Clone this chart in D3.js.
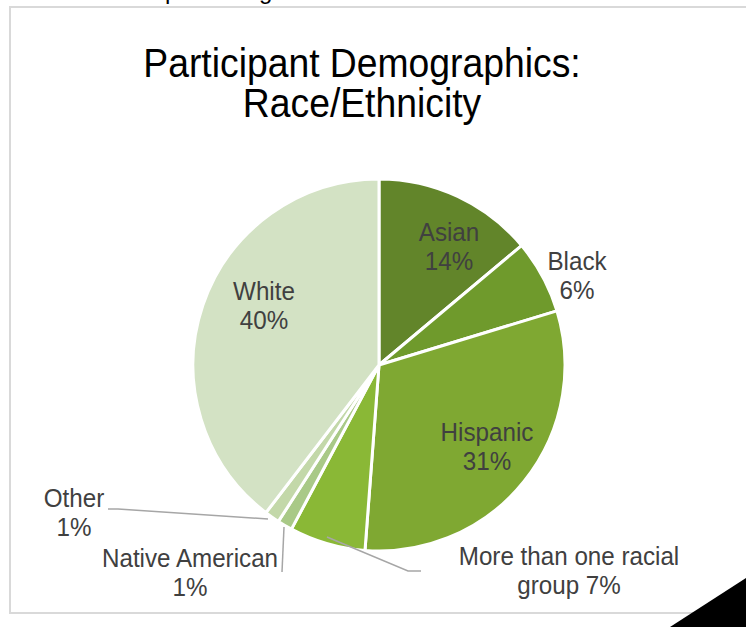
<!DOCTYPE html>
<html lang="en">
<head>
<meta charset="UTF-8">
<title>Participant Demographics: Race/Ethnicity</title>
<script src="https://d3js.org/d3.v7.min.js"></script>
<style>
    body, html {
        margin: 0;
        padding: 0;
        overflow: hidden;
        background: #fff;
    }
    svg {
        display: block;
        font-family: 'Liberation Sans', Arial, sans-serif;
    }
</style>
</head>
<body>
<svg id="chart" width="746" height="627"></svg>
<script>
// Race/Ethnicity breakdown (percent)
const groups = ["Asian", "Black", "Hispanic", "More than one racial group", "Native American", "Other", "White"];
const shares = [13.9, 6.4, 30.9, 6.6, 1.3, 1.3, 39.6];
const colors = ["#62852a", "#6f9a2c", "#7fa832", "#8ab836", "#a9c987", "#c3d8a9", "#d3e2c4"];

// label lines: [first line, second line]
const labelLines = [
    ["Asian", "14%"],
    ["Black", "6%"],
    ["Hispanic", "31%"],
    ["More than one racial", "group 7%"],
    ["Native American", "1%"],
    ["Other", "1%"],
    ["White", "40%"]
];

const svg = d3.select("#chart");
const cx = 379, cy = 365, radius = 186;

// frame around the chart area
svg.append("rect")
    .attr("x", 10).attr("y", 7)
    .attr("width", 760).attr("height", 606)
    .attr("fill", "none")
    .attr("stroke", "#d9d9d9")
    .attr("stroke-width", 2);

// clipped text above the frame (only descenders visible)
svg.append("text").attr("x", 165).attr("y", -1).attr("font-size", 24).text("p");
svg.append("text").attr("x", 259).attr("y", -1).attr("font-size", 24).text("g");

// title
const title = svg.append("g").attr("text-anchor", "middle").attr("fill", "#000");
["Participant Demographics:", "Race/Ethnicity"].forEach((t, i) => {
    title.append("text")
        .attr("transform", `translate(362,${77 + i * 40}) scale(1,1.08)`)
        .attr("font-size", 37.3)
        .text(t);
});

const data = groups.map((g, i) => ({ name: g, value: shares[i], color: colors[i], lines: labelLines[i] }));

const pie = d3.pie().sort(null).value(d => d.value);
const arc = d3.arc().innerRadius(0).outerRadius(radius);
const arcs = pie(data);

const pieG = svg.append("g").attr("transform", `translate(${cx},${cy})`);
pieG.selectAll("path")
    .data(arcs)
    .join("path")
    .attr("d", arc)
    .attr("fill", d => d.data.color)
    .attr("stroke", "#fff")
    .attr("stroke-width", 3)
    .attr("stroke-linejoin", "round");

// label positions (absolute, center x and first baseline)
const labelPos = {
    "Asian": [449, 241],
    "Black": [577, 270],
    "Hispanic": [487, 441],
    "More than one racial group": [569, 565],
    "Native American": [190, 567],
    "Other": [74, 507],
    "White": [264, 300]
};

// leader lines for small slices
const leaders = {
    "Other": [[108, 509], [118, 509], [268, 519]],
    "Native American": [[284, 527], [282, 572]],
    "More than one racial group": [[327, 537], [408, 571], [421, 571]]
};

const line = d3.line();
svg.append("g")
    .selectAll("path")
    .data(Object.values(leaders))
    .join("path")
    .attr("d", d => line(d))
    .attr("fill", "none")
    .attr("stroke", "#a6a6a6")
    .attr("stroke-width", 1.5);

const labels = svg.append("g")
    .attr("text-anchor", "middle")
    .attr("fill", "#404040")
    .attr("font-size", 24.2);

arcs.forEach(a => {
    const [x, y] = labelPos[a.data.name];
    a.data.lines.forEach((t, i) => {
        labels.append("text")
            .attr("transform", `translate(${x},${y + i * 28.5}) scale(1,1.04)`)
            .text(t);
    });
});

// black corner triangle
svg.append("path")
    .attr("d", "M670,627 L746,578 L746,627 Z")
    .attr("fill", "#000");
</script>
</body>
</html>
